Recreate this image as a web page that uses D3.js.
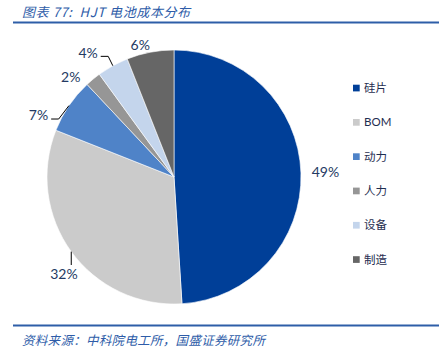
<!DOCTYPE html>
<html><head><meta charset="utf-8">
<script src="https://cdn.jsdelivr.net/npm/d3@7"></script>
<style>
html,body{margin:0;padding:0;background:#fff;}
svg{display:block;}
</style></head>
<body>
<svg id="c" width="448" height="354"></svg>
<script>
const categories = ["硅片", "BOM", "动力", "人力", "设备", "制造"];
const values = [49, 32, 7, 2, 4, 6];
const valueLabels = ["49%", "32%", "7%", "2%", "4%", "6%"];
const colors = ["#003f98", "#cbcbcb", "#4f83c8", "#969696", "#c4d5ec", "#666666"];
const titleText = "图表 77:  HJT 电池成本分布";
const sourceText = "资料来源：中科院电工所，国盛证券研究所";

const svg = d3.select("#c");
const cx = 174, cy = 177, R = 127;
const cjk = "'Noto Sans CJK SC', sans-serif";
const latin = "Lato, 'Noto Sans CJK SC', sans-serif";

// title and rules
svg.append("text").attr("x", 22).attr("y", 17)
  .attr("font-family", cjk).attr("font-size", 13).attr("font-style", "italic")
  .attr("letter-spacing", 0.6).style("white-space", "pre")
  .attr("fill", "#2e5ca8").text(titleText);
svg.append("line").attr("x1", 13).attr("x2", 439).attr("y1", 22.5).attr("y2", 22.5)
  .attr("stroke", "#2e5ea8").attr("stroke-width", 2);
svg.append("line").attr("x1", 13).attr("x2", 439).attr("y1", 325.5).attr("y2", 325.5)
  .attr("stroke", "#2e5ea8").attr("stroke-width", 2);
svg.append("text").attr("x", 22).attr("y", 345)
  .attr("font-family", cjk).attr("font-size", 12.5).attr("font-style", "italic")
  .attr("letter-spacing", 0.3)
  .attr("fill", "#2e5ca8").text(sourceText);

// pie
const data = categories.map((c, i) => ({cat: c, value: values[i], label: valueLabels[i], color: colors[i]}));
const pie = d3.pie().value(d => d.value).sort(null);
const arcs = pie(data);
const arc = d3.arc().innerRadius(0).outerRadius(R);
const g = svg.append("g").attr("transform", `translate(${cx},${cy})`);
g.selectAll("path").data(arcs).join("path")
  .attr("d", arc).attr("fill", d => d.data.color)
  .attr("stroke", "#fff").attr("stroke-width", 0.6);

// label layout (polar: radius, angle offset in degrees from slice mid)
const layout = [
  {r: 151.5, da: 0, leader: null},
  {r: 146.7, da: -5.4, leader: "v"},
  {r: 148.8, da: -9.8, leader: "h"},
  {r: 143.6, da: -6.4, leader: null},
  {r: 151, da: -5.9, leader: "h"},
  {r: 136, da: -3.6, leader: null}
];
const pol = (ang, r) => [r * Math.sin(ang), -r * Math.cos(ang)];
arcs.forEach((a, i) => {
  const mid = (a.startAngle + a.endAngle) / 2;
  const L = layout[i];
  const [lx, ly] = pol(mid + L.da * Math.PI / 180, L.r);
  const t = g.append("text").attr("x", lx).attr("y", ly).attr("dy", "0.35em")
    .attr("text-anchor", "middle").attr("font-family", latin).attr("font-size", 14)
    .attr("fill", "#243a63").text(a.data.label);
  const bb = t.node().getBBox();
  const [sx, sy] = pol(mid, R);
  if (L.leader === "h") {
    const ex = bb.x + bb.width + 3, ey = ly + 3.5;
    g.append("polyline").attr("points", `${sx},${sy} ${ex + 7.5},${ey} ${ex},${ey}`)
      .attr("fill", "none").attr("stroke", "#000").attr("stroke-width", 1);
  } else if (L.leader === "v") {
    g.append("line").attr("x1", sx).attr("y1", sy).attr("x2", sx).attr("y2", ly - 9)
      .attr("stroke", "#000").attr("stroke-width", 1);
  }
});

// legend
const leg = svg.append("g").attr("transform", "translate(353,88)");
const ly = d3.scalePoint().domain(categories).range([0, 171.5]);
categories.forEach((c, i) => {
  const row = leg.append("g").attr("transform", `translate(0,${ly(c)})`);
  row.append("rect").attr("x", 0).attr("y", -3.3).attr("width", 6.7).attr("height", 6.7).attr("fill", colors[i]);
  row.append("text").attr("x", 11).attr("y", 0).attr("dy", "0.36em")
    .attr("font-family", latin).attr("font-size", 11.5).attr("fill", "#1f2d50").text(c);
});
</script>
</body></html>
